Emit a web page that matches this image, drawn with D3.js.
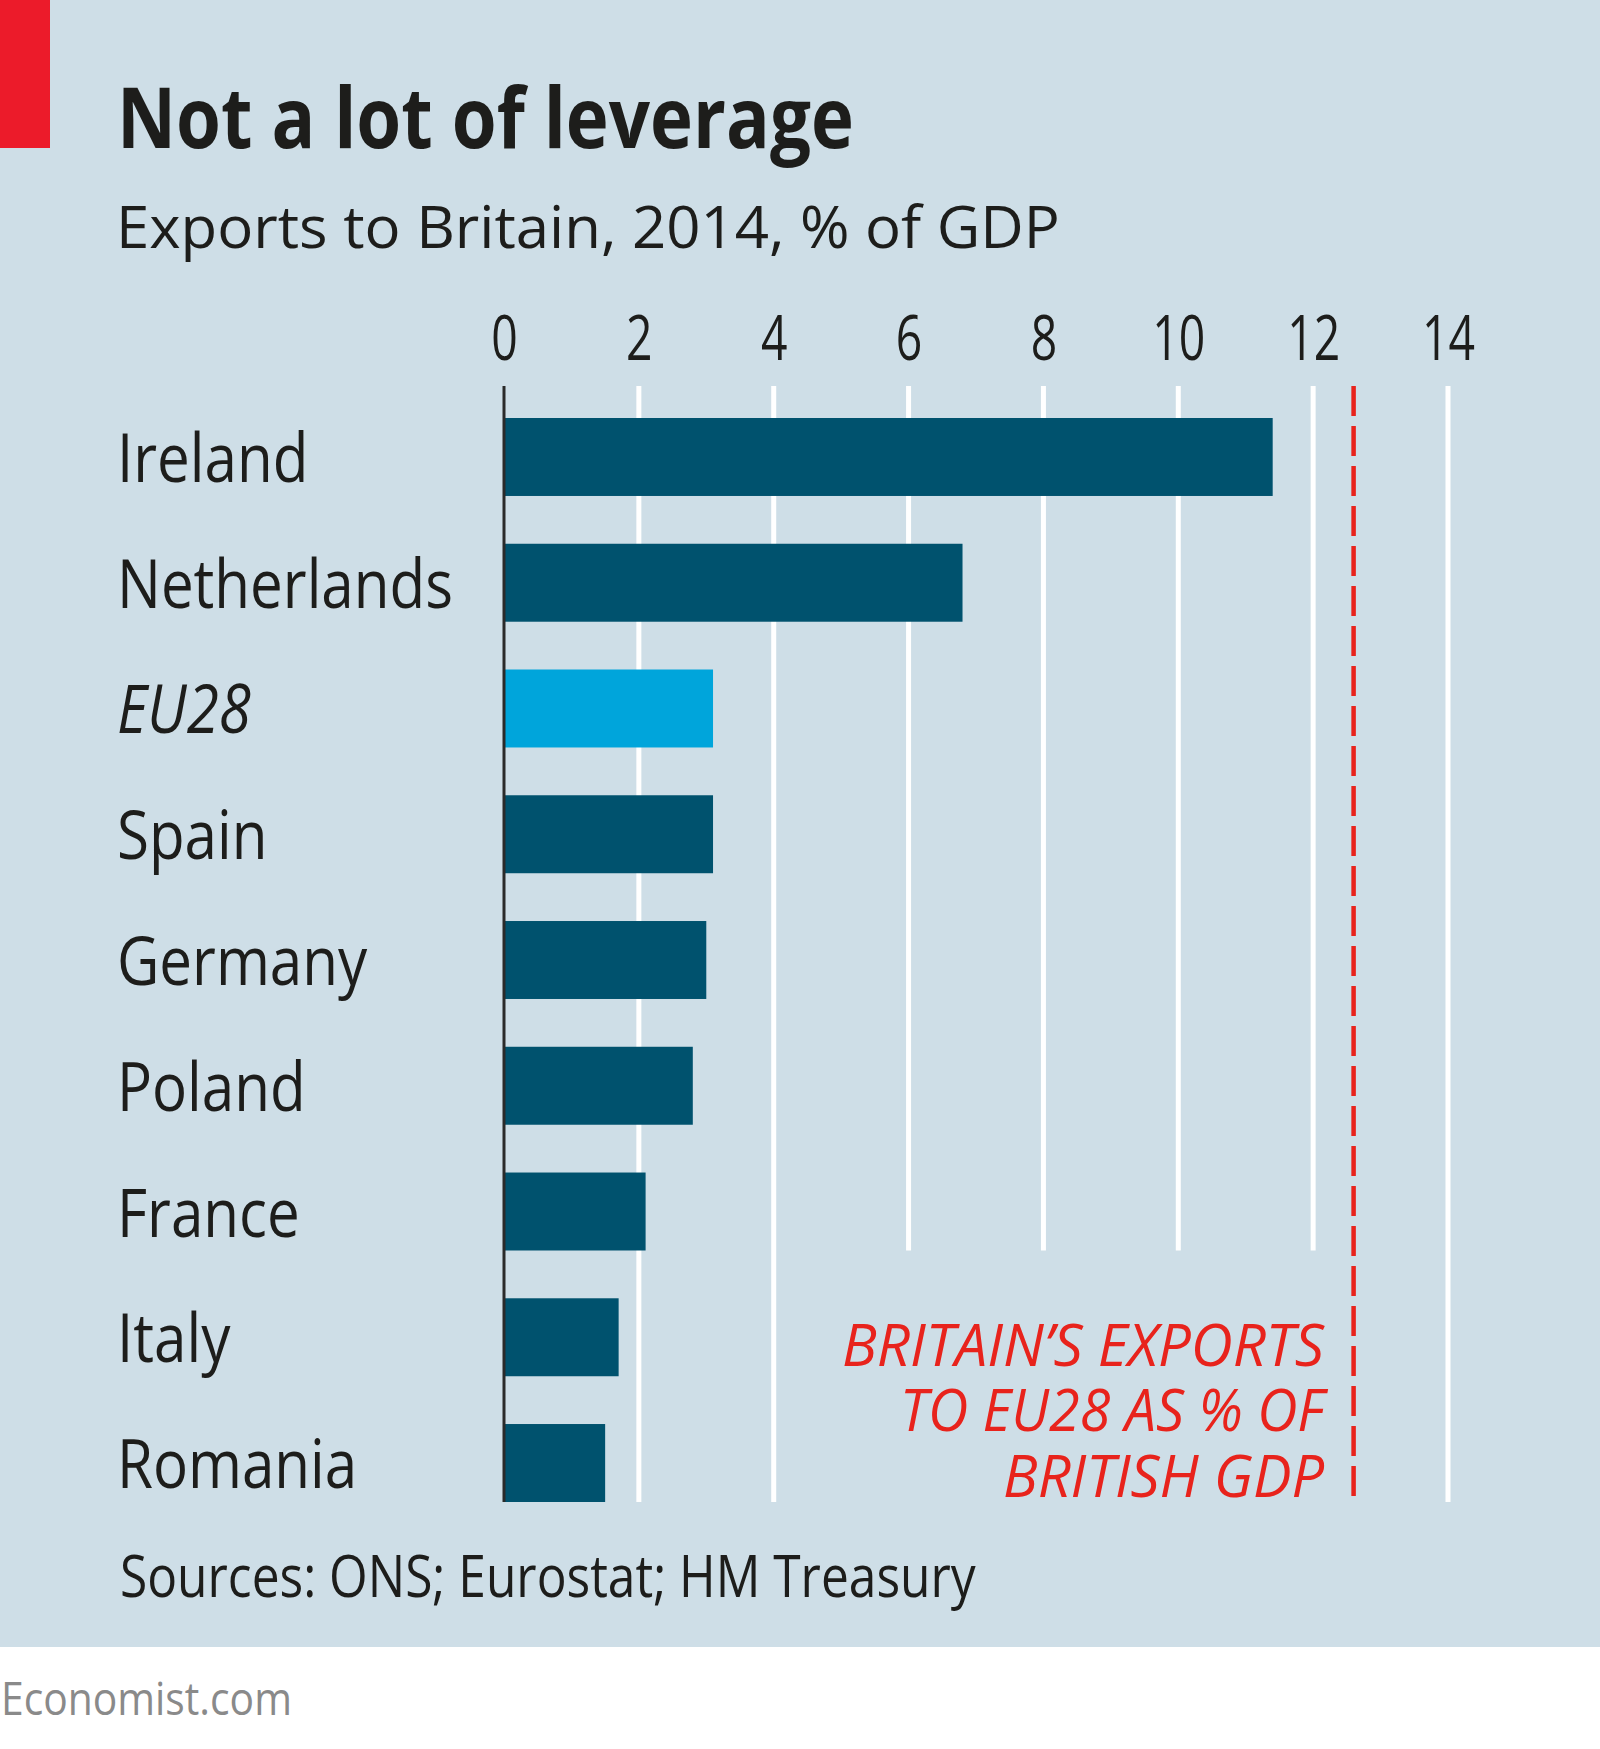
<!DOCTYPE html>
<html><head><meta charset="utf-8">
<script src="https://cdn.jsdelivr.net/npm/d3@7"></script>
<style>body{margin:0;background:#fff}</style>
</head><body>
<svg id="chart" width="1600" height="1749"></svg>
<script>
// ---- data ----
const categories = ["Ireland","Netherlands","EU28","Spain","Germany","Poland","France","Italy","Romania"];
const values = [11.4, 6.8, 3.1, 3.1, 3.0, 2.8, 2.1, 1.7, 1.5];
const highlighted = ["EU28"];
const britainExportsToEU = 12.6;
const tickValues = [0, 2, 4, 6, 8, 10, 12, 14];
const shortGridTicks = [6, 8, 10, 12];
const title = "Not a lot of leverage";
const subtitle = "Exports to Britain, 2014, % of GDP";
const annotationLines = ["BRITAIN\u2019S EXPORTS", "TO EU28 AS % OF", "BRITISH GDP"];
const sourceText = "Sources: ONS; Eurostat; HM Treasury";
const creditText = "Economist.com";

// ---- style ----
const FONT = "'Open Sans','Noto Sans','DejaVu Sans',sans-serif";
const BG = "#cedee7", DARK = "#00526e", LIGHT = "#00a5db", RED = "#e8231c", INK = "#1d1d1b";

const svg = d3.select("#chart");
const W = 1600, H = 1749;

svg.append("rect").attr("x",0).attr("y",0).attr("width",W).attr("height",H).attr("fill","#fff");
svg.append("rect").attr("x",0).attr("y",0).attr("width",W).attr("height",1647).attr("fill",BG);
svg.append("rect").attr("x",0).attr("y",0).attr("width",50).attr("height",148).attr("fill","#ec1b2a");

const x = d3.scaleLinear().domain([0, 14]).range([504, 1448]);
const y = d3.scaleBand().domain(categories).range([418, 1502]).paddingInner(0.38).paddingOuter(0);
const data = categories.map((c, i) => ({cat: c, val: values[i]}));

function placeFit(sel, px, py, sx) {
  sel.attr("x", 0).attr("y", 0).attr("transform", `translate(${px},${py}) scale(${sx},1)`);
}
function widthOf(sel) { return sel.node().getComputedTextLength(); }

// title
const t = svg.append("text").text(title).attr("font-family", FONT).attr("font-weight", 700)
  .attr("font-size", 84).attr("fill", INK);
placeFit(t, 117, 148, 737 / widthOf(t));

const st = svg.append("text").text(subtitle).attr("font-family", FONT)
  .attr("font-size", 59).attr("fill", INK);
placeFit(st, 116, 248, 944 / widthOf(st));

// gridlines
const gridTop = 386;
const gridBottom = y.range()[1];
const franceBottom = y("France") + y.bandwidth();
svg.append("g").selectAll("line").data(tickValues.filter(d => d !== 0)).join("line")
  .attr("x1", d => x(d)).attr("x2", d => x(d))
  .attr("y1", gridTop)
  .attr("y2", d => shortGridTicks.includes(d) ? franceBottom : gridBottom)
  .attr("stroke", "#fff").attr("stroke-width", 5);

// britain dashed line
svg.append("line")
  .attr("x1", x(britainExportsToEU)).attr("x2", x(britainExportsToEU))
  .attr("y1", gridTop).attr("y2", gridBottom)
  .attr("stroke", RED).attr("stroke-width", 4.5).attr("stroke-dasharray", "30,10");

// bars
svg.append("g").selectAll("rect").data(data).join("rect")
  .attr("x", x(0)).attr("y", d => y(d.cat))
  .attr("width", d => x(d.val) - x(0)).attr("height", y.bandwidth())
  .attr("fill", d => highlighted.includes(d.cat) ? LIGHT : DARK);

// zero line
svg.append("line").attr("x1", x(0)).attr("x2", x(0)).attr("y1", gridTop).attr("y2", gridBottom)
  .attr("stroke", "#2a2a2a").attr("stroke-width", 3);

// x axis (top)
const axis = d3.axisTop(x).tickValues(tickValues).tickSize(0).tickPadding(0).tickFormat(d3.format("d"));
const ax = svg.append("g").attr("transform", "translate(0,360)").call(axis);
ax.select(".domain").remove();
ax.selectAll("text").attr("font-family", FONT).attr("font-size", 62).attr("fill", INK)
  .attr("y", 0).attr("dy", 0);
const tenW = widthOf(ax.selectAll("text").filter(d => d === 10));
const tickSx = 53 / tenW;
ax.selectAll("text").attr("transform", `scale(${tickSx},1)`);

// category labels
const labels = svg.append("g").selectAll("text").data(data).join("text")
  .text(d => d.cat)
  .attr("font-family", FONT).attr("font-size", 67).attr("fill", INK)
  .attr("font-style", d => highlighted.includes(d.cat) ? "italic" : "normal");
const nethW = widthOf(labels.filter(d => d.cat === "Netherlands"));
const labSx = 336 / nethW;
labels.each(function(d) {
  placeFit(d3.select(this), 117, y(d.cat) + y.bandwidth() / 2 + 25, labSx);
});

// annotation (right-aligned, three lines)
const annBase = [1366, 1431, 1497];
const annTarget = [482, 424, 321];
const ann = svg.append("g").selectAll("text").data(annotationLines).join("text")
  .text(d => d).attr("font-family", FONT).attr("font-size", 58).attr("font-style", "italic")
  .attr("fill", RED).attr("text-anchor", "end");
ann.each(function(d, i) {
  const s = d3.select(this);
  placeFit(s, 1324, annBase[i], annTarget[i] / widthOf(s));
});

// source
const src = svg.append("text").text(sourceText).attr("font-family", FONT)
  .attr("font-size", 59).attr("fill", INK);
placeFit(src, 120, 1597, 856 / widthOf(src));

const cr = svg.append("text").text(creditText).attr("font-family", FONT)
  .attr("font-size", 46).attr("fill", "#8a8a8a");
placeFit(cr, 1, 1715, 291 / widthOf(cr));
</script>
</body></html>
